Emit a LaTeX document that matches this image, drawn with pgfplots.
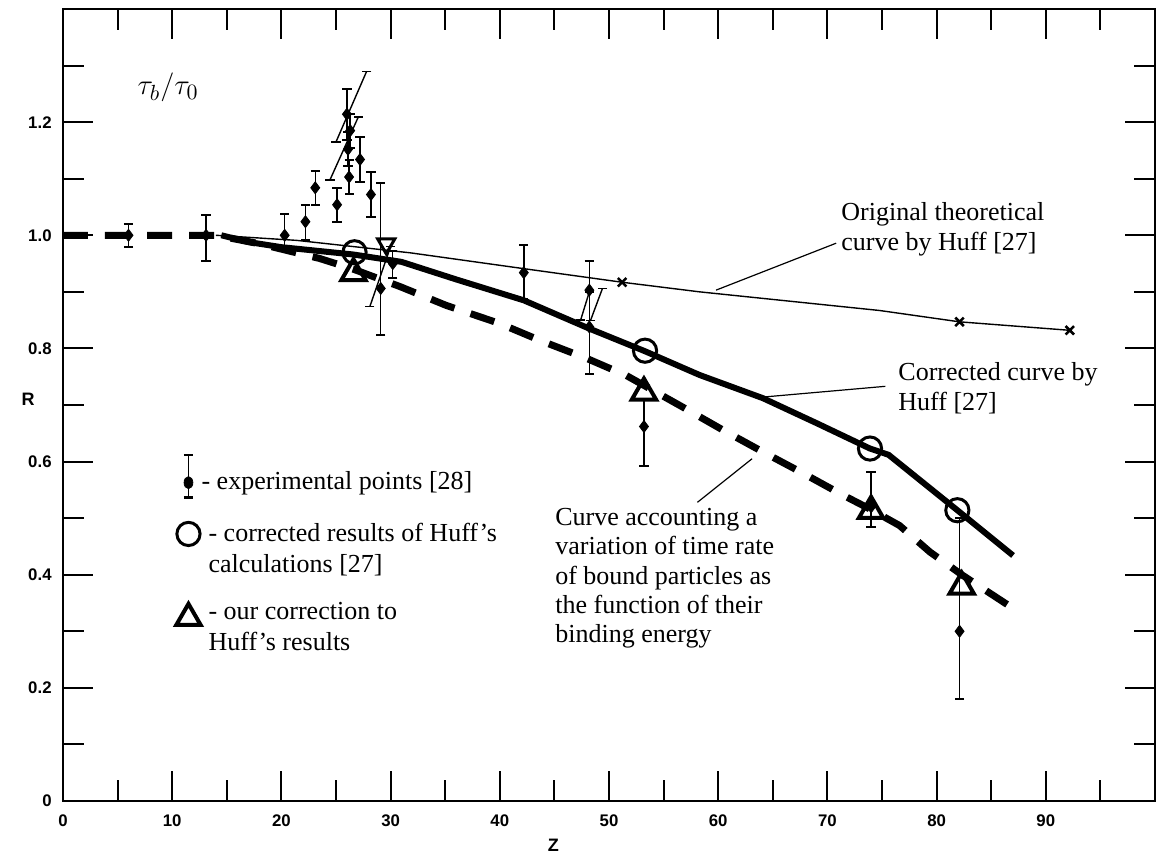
\documentclass[border=0pt]{standalone}
\usepackage{fontspec}
\setmainfont{Liberation Serif}
\newfontfamily\ticksf{Liberation Sans}
\usepackage{pgfplots}
\pgfplotsset{compat=1.18}

\begin{document}
\begin{tikzpicture}
\begin{axis}[
  scale only axis,
  width=546pt, height=396pt,
  xmin=0, xmax=100, ymin=0, ymax=1.4,
  axis line style={line width=1.3pt},
  xtick={0,10,...,90}, minor xtick={5,15,...,95},
  ytick={0,0.2,0.4,0.6,0.8,1.0,1.2},
  yticklabels={0,0.2,0.4,0.6,0.8,1.0,1.2},
  minor ytick={0.1,0.3,0.5,0.7,0.9,1.1,1.3},
  tick align=inside,
  major tick length=15pt, minor tick length=10.5pt,
  every major tick/.append style={line width=1pt, black},
  every minor tick/.append style={line width=1pt, black},
  tick label style={font=\ticksf\bfseries\fontsize{8.4}{10}\selectfont},
  /pgf/number format/assume math mode=true,
  xticklabel style={inner sep=0pt, anchor=north, yshift=-6.5pt},
  yticklabel style={inner sep=0pt, anchor=east, xshift=-5.5pt},
  xlabel={Z}, ylabel={R},
  label style={font=\ticksf\bfseries\fontsize{9}{10}\selectfont},
  xlabel style={at={(axis description cs:0.449,-0.056)}, anchor=center},
  ylabel style={at={(axis description cs:-0.032,0.507)}, anchor=center, rotate=-90},
  legend style={at={(axis cs:10.16,0.614)}, anchor=north west, draw=none, fill=none,
    inner sep=0pt, row sep=5.65pt, column sep=1pt,
    font=\fontsize{13}{15.5}\selectfont,
    cells={anchor=base west, inner sep=0pt}},
]

% legend
\addlegendimage{legend image code/.code={
  \path[draw=none, fill=none] (0pt,-7.85pt) rectangle (0.1pt,0pt);
  \draw[line width=0.7pt] (0pt,-4.3pt) -- (0pt,17pt);
  \draw[line width=1pt] (-2.3pt,17pt) -- (2.3pt,17pt);
  \draw[line width=1.4pt] (-2.3pt,-4.3pt) -- (2.3pt,-4.3pt);
  \fill (0pt,3.2pt) ellipse (2.2pt and 3pt);}}
\addlegendentry{\hspace*{-3.5pt}- experimental points [28]}
\addlegendimage{legend image code/.code={
  \path[draw=none, fill=none] (0pt,-20.15pt) rectangle (0.1pt,0pt);
  \draw[line width=1.5pt] (0pt,3.9pt) circle (5.8pt);}}
\addlegendentry{\begin{tabular}[t]{@{}l@{}}- corrected results of Huff's\\calculations [27]\end{tabular}}
\addlegendimage{legend image code/.code={
  \draw[line width=2pt] (0pt,0.6pt) +(90:7pt) -- +(-30:7pt) -- +(210:7pt) -- cycle;}}
\addlegendentry{\begin{tabular}[t]{@{}l@{}}- our correction to\\Huff's results\end{tabular}}

% original theoretical curve by Huff
\addplot[line width=0.7pt] coordinates {
  (14,1.0) (21.4,0.991) (31.8,0.969) (42.2,0.941) (51.2,0.917)
  (58.3,0.900) (74.8,0.867) (82.1,0.847) (92.2,0.832)};
\addplot[only marks, mark=x, mark size=3pt, line width=1.3pt] coordinates {
  (51.2,0.917) (82.1,0.847) (92.2,0.832)};

% corrected curve by Huff
\addplot[line width=3pt] coordinates {
  (14.5,1.0) (17,0.988) (20,0.979) (26.6,0.966) (31,0.953) (36,0.922)
  (42.2,0.885) (48.2,0.835) (53.3,0.795) (58.3,0.753) (64.1,0.712)
  (69,0.668) (73.9,0.623) (75.6,0.612) (81.9,0.514) (87,0.434)};

% curve accounting binding energy
\addplot[line width=3.5pt, dash pattern=on 12.5pt off 8.5pt] coordinates {
  (0,1.0) (14,1.0) (18,0.985) (23.5,0.959) (26.6,0.94) (30.9,0.909)
  (35.1,0.876) (40,0.844) (43.7,0.814) (48,0.782) (51.6,0.752)
  (56.5,0.699) (60.5,0.655) (64.1,0.617) (67.8,0.579) (71.2,0.543)
  (74,0.515) (76.6,0.487) (79.4,0.44) (82.3,0.40) (87.6,0.333)};

% corrected results of Huff's calculations
\addplot[only marks, mark=o, mark size=5.8pt, line width=1.5pt] coordinates {
  (26.7,0.970) (53.3,0.796) (73.9,0.623) (81.9,0.514)};

% our correction
\addplot[only marks, mark=triangle, mark size=7pt, line width=2pt] coordinates {
  (26.6,0.933) (53.2,0.722) (74.0,0.513) (82.3,0.379)};
\addplot[only marks, mark=triangle, mark size=5pt, line width=1.5pt,
  mark options={rotate=180}] coordinates {(29.6,0.985)};

% experimental points
\addplot[only marks, mark=diamond*, mark size=3pt,
  error bars/.cd, y dir=both, y explicit,
  error bar style={line width=0.7pt},
  error mark options={rotate=90, mark size=2.3pt, line width=1pt}] coordinates {
  (6,1.0) +- (0,0.02)
  (13.1,1.0) += (0,0.035) -= (0,0.046)
  (20.3,1.0) += (0,0.038) -= (0,0.02)
  (22.2,1.024) += (0,0.029) -= (0,0.033)
  (23.1,1.084) +- (0,0.03)
  (25.1,1.054) +- (0,0.03)
  (26.0,1.214) +- (0,0.045)
  (26.3,1.185) +- (0,0.03)
  (26.1,1.152) +- (0,0.03)
  (26.2,1.103) +- (0,0.03)
  (27.2,1.134) +- (0,0.04)
  (28.2,1.072) +- (0,0.04)
  (29.1,0.906) += (0,0.187) -= (0,0.083)
  (30.2,0.95) += (0,0.023) -= (0,0.026)
  (42.2,0.934) += (0,0.048) -= (0,0.046)
  (48.2,0.903) += (0,0.051) -= (0,0.065)
  (48.2,0.838) += (0,0) -= (0,0.084)
  (53.2,0.662) += (0,0.046) -= (0,0.069)
  (74,0.52) += (0,0.062) -= (0,0.036)
  (82.1,0.30) += (0,0.20) -= (0,0.12)};

% slanted error bars
\addplot[line width=0.7pt, mark=-, mark size=2.3pt] coordinates {(27.81,1.290) (25.0,1.165)};
\addplot[line width=0.7pt, mark=-, mark size=2.3pt] coordinates {(27.04,1.209) (24.45,1.098)};
\addplot[line width=0.7pt, mark=-, mark size=2.3pt] coordinates {(30.0,0.98) (28.1,0.874)};
\addplot[line width=0.7pt, mark=-, mark size=2.3pt] coordinates {(49.4,0.906) (48.3,0.849)};
\addplot[line width=0.7pt, mark=-, mark size=2.3pt] coordinates {(48.2,0.90) (47.4,0.85)};

% pointers
\addplot[line width=0.6pt] coordinates {(70.8,0.986) (59.8,0.903)};
\addplot[line width=0.6pt] coordinates {(75.3,0.733) (64.1,0.714)};
\addplot[line width=0.6pt] coordinates {(63.1,0.605) (58.1,0.528)};

% annotations
\node[anchor=base west, inner sep=0pt, font=\fontsize{15}{15}\selectfont]
  at (axis cs:6.8,1.248) {$\tau_b/\tau_0$};
\node[anchor=base west, inner sep=0pt, font=\fontsize{13}{15}\selectfont]
  at (axis cs:71.25,1.026)
  {\begin{tabular}[t]{@{}l@{}}Original theoretical\\curve by Huff [27]\end{tabular}};
\node[anchor=base west, inner sep=0pt, font=\fontsize{13}{15}\selectfont]
  at (axis cs:76.47,0.743)
  {\begin{tabular}[t]{@{}l@{}}Corrected curve by\\Huff [27]\end{tabular}};
\node[anchor=base west, inner sep=0pt, font=\fontsize{13}{14.65}\selectfont]
  at (axis cs:45.05,0.487)
  {\begin{tabular}[t]{@{}l@{}}Curve accounting a\\variation of time rate\\of bound particles as\\the function of their\\binding energy\end{tabular}};
\end{axis}
\pgfresetboundingbox
\path ([shift={(-31.5pt,-28.15pt)}]current axis.south west) rectangle ([shift={(1pt,4.5pt)}]current axis.north east);
\end{tikzpicture}
\end{document}
